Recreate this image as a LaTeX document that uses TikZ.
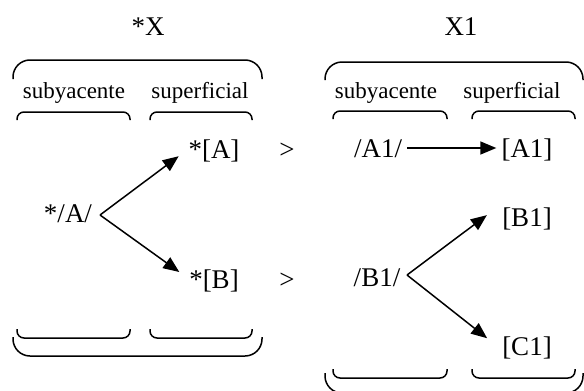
\documentclass[tikz,border=0pt]{standalone}
\usepackage{fontspec}
\setmainfont{Liberation Serif}
\usetikzlibrary{arrows.meta}

\begin{document}
\begin{tikzpicture}[
  x=1pt, y=-1pt,
  tok/.style={font=\fontsize{27}{32}\selectfont, inner sep=0pt, text height=18pt, text depth=0pt},
  lab/.style={font=\fontsize{23}{28}\selectfont, inner sep=0pt, anchor=base},
  brace/.style={line width=1.5pt, rounded corners=7pt},
  arr/.style={->, line width=1.5pt, shorten >=10pt},
  >={Triangle[length=16pt, width=13pt]}
]
\useasboundingbox (0,0) rectangle (584,391);
% titles and column labels
\node[tok] (titleX) at (148,26) {*X};
\node[tok] (titleX1) at (461,26) {X1};
\node[lab] (subL) at (74,98) {subyacente};
\node[lab] (supL) at (200,98) {superficial};
\node[lab] (subR) at (386,98) {subyacente};
\node[lab] (supR) at (512,98) {superficial};
% left column: *X
\node[tok] (undA) at (68,213) {*/A/};
\node[tok] (surA) at (214,149) {*[A]};
\node[tok] (surB) at (214,279) {*[B]};
\node[tok] (gtA) at (287,149) {>};
\node[tok] (gtB) at (287,279) {>};
\coordinate (forkA) at (100,215);
% right column: X1
\node[tok] (undA1) at (378,148) {/A1/};
\node[tok] (surA1) at (527,148) {[A1]};
\node[tok] (undB1) at (377,277) {/B1/};
\node[tok] (surB1) at (527,217) {[B1]};
\node[tok] (surC1) at (527,346) {[C1]};
\coordinate (forkB) at (407,275);
% arrows
\draw[arr, shorten >=12pt] (forkA) -- (surA.west);
\draw[arr, shorten >=12pt] (forkA) -- (surB.west);
\draw[arr, shorten <=5pt, shorten >=5pt] (undA1.east) -- (surA1.west);
\draw[arr, shorten >=19pt] (forkB) -- ([yshift=4pt]surB1.north west);
\draw[arr, shorten >=19pt] (forkB) -- ([yshift=-4pt]surC1.west);
% braces, left
\draw[brace, rounded corners=17pt] (13,79) -- (13,60) -- (262,60) -- (262,79);
\draw[brace] (17,120) -- (17,112) -- (130,112) -- (130,120);
\draw[brace] (150,120) -- (150,112) -- (252,112) -- (252,120);
\draw[brace] (17,329) -- (17,338) -- (130,338) -- (130,329);
\draw[brace] (150,329) -- (150,338) -- (252,338) -- (252,329);
\draw[brace, rounded corners=17pt] (13,337) -- (13,356) -- (262,356) -- (262,337);
% braces, right
\draw[brace, rounded corners=17pt] (325,80) -- (325,62) -- (583,62) -- (583,80);
\draw[brace] (333,119) -- (333,111) -- (447,111) -- (447,119);
\draw[brace] (472,119) -- (472,111) -- (575,111) -- (575,119);
\draw[brace] (333,369) -- (333,378) -- (447,378) -- (447,369);
\draw[brace] (472,369) -- (472,378) -- (575,378) -- (575,369);
\draw[brace, rounded corners=17pt] (325,373) -- (325,393) -- (583,393) -- (583,373);
\end{tikzpicture}
\end{document}
